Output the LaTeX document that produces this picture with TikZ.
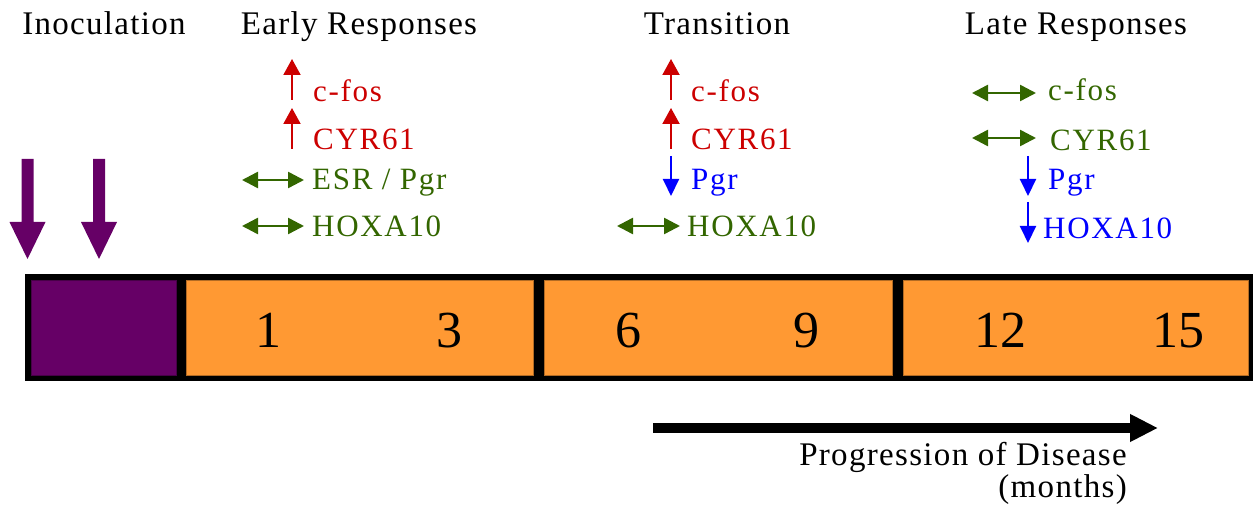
\documentclass[tikz,border=0pt]{standalone}
\usepackage{fontspec}
\setmainfont{Liberation Serif}[LetterSpace=4]
\newfontfamily\lblfont{Liberation Serif}[LetterSpace=5.5]
\newfontfamily\numfont{Liberation Serif}
\usetikzlibrary{arrows.meta}
\definecolor{cred}{HTML}{CC0000}
\definecolor{cgreen}{HTML}{336600}
\definecolor{cblue}{HTML}{0000FF}
\definecolor{cpurple}{HTML}{660066}
\definecolor{corange}{HTML}{FF9933}
\begin{document}
\begin{tikzpicture}[x=1pt,y=-1pt,
  lbl/.style={inner sep=0pt,anchor=base west,font=\lblfont\fontsize{31}{36}\selectfont},
  title/.style={inner sep=0pt,anchor=base,font=\fontsize{33}{37}\selectfont},
  num/.style={inner sep=0pt,anchor=base,font=\numfont\fontsize{52}{56}\selectfont},
  cell/.style={inner sep=0pt,minimum height=95pt,draw=#1!70!black,line width=0.6pt,fill=#1},
  uparr/.style={draw=cred,line width=2pt,-{Triangle[width=17pt,length=16pt]}},
  downarr/.style={draw=cblue,line width=2pt,-{Triangle[width=16pt,length=17pt]}},
  sidearr/.style={draw=cgreen,line width=2.5pt,{Triangle[width=16pt,length=16pt]}-{Triangle[width=16pt,length=16pt]}},
  inoc/.style={fill=cpurple},
]
\useasboundingbox (0,0) rectangle (1253,510);

% timeline bar
\node[inner sep=0pt,fill=black,minimum width=1228pt,minimum height=107pt] (frame) at (639,327.5) {};
\node[cell=cpurple,minimum width=145pt] (c0) at (103.5,327.5) {};
\node[cell=corange,minimum width=347pt] (c1) at (359.5,327.5) {};
\node[cell=corange,minimum width=348pt] (c2) at (718,327.5) {};
\node[cell=corange,minimum width=345pt] (c3) at (1075.5,327.5) {};

\node[num] (n1) at (268,348) {1};
\node[num] (n3) at (449,348) {3};
\node[num] (n6) at (628,348) {6};
\node[num] (n9) at (806,348) {9};
\node[num] (n12) at (1000,348) {12};
\node[num] (n15) at (1178,348) {15};

% inoculation arrows
\fill[inoc] (21.5,159) -- (33.5,159) -- (33.5,222) -- (45.5,222) -- (27.5,259) -- (9.5,222) -- (21.5,222) -- cycle;
\fill[inoc] (93,159) -- (105,159) -- (105,222) -- (117,222) -- (99,259) -- (81,222) -- (93,222) -- cycle;

% titles
\node[title] (tInoc) at (104,35) {Inoculation};
\node[title] (tEarly) at (359,35) {Early Responses};
\node[title] (tTrans) at (717,35) {Transition};
\node[title] (tLate) at (1076,35) {Late Responses};

% early responses
\node[lbl,text=cred] (e1) at (313,102) {c-fos};
\node[lbl,text=cred] (e2) at (313,150) {CYR61};
\node[lbl,text=cgreen] (e3) at (312,190) {ESR / Pgr};
\node[lbl,text=cgreen] (e4) at (312,237) {HOXA10};
\coordinate (ea1s) at (292,100); \coordinate (ea1e) at (292,59);
\coordinate (ea2s) at (292,149); \coordinate (ea2e) at (292,108);
\coordinate (ea3s) at (242,180); \coordinate (ea3e) at (304,180);
\coordinate (ea4s) at (242,226); \coordinate (ea4e) at (304,226);
\draw[uparr] (ea1s) -- (ea1e);
\draw[uparr] (ea2s) -- (ea2e);
\draw[sidearr] (ea3s) -- (ea3e);
\draw[sidearr] (ea4s) -- (ea4e);

% transition
\node[lbl,text=cred] (t1) at (691,102) {c-fos};
\node[lbl,text=cred] (t2) at (691,150) {CYR61};
\node[lbl,text=cblue] (t3) at (691,190) {Pgr};
\node[lbl,text=cgreen] (t4) at (687,237) {HOXA10};
\coordinate (ta1s) at (671,100); \coordinate (ta1e) at (671,59);
\coordinate (ta2s) at (671,149); \coordinate (ta2e) at (671,108);
\coordinate (ta3s) at (671,156); \coordinate (ta3e) at (671,196);
\coordinate (ta4s) at (617,226); \coordinate (ta4e) at (680,226);
\draw[uparr] (ta1s) -- (ta1e);
\draw[uparr] (ta2s) -- (ta2e);
\draw[downarr] (ta3s) -- (ta3e);
\draw[sidearr] (ta4s) -- (ta4e);

% late responses
\node[lbl,text=cgreen] (l1) at (1048,101) {c-fos};
\node[lbl,text=cgreen] (l2) at (1050,151) {CYR61};
\node[lbl,text=cblue] (l3) at (1048,190) {Pgr};
\node[lbl,text=cblue] (l4) at (1043,239) {HOXA10};
\coordinate (la1s) at (972,93); \coordinate (la1e) at (1036,93);
\coordinate (la2s) at (972,138); \coordinate (la2e) at (1036,138);
\coordinate (la3s) at (1028,156); \coordinate (la3e) at (1028,196);
\coordinate (la4s) at (1028,202); \coordinate (la4e) at (1028,243);
\draw[sidearr] (la1s) -- (la1e);
\draw[sidearr] (la2s) -- (la2e);
\draw[downarr] (la3s) -- (la3e);
\draw[downarr] (la4s) -- (la4e);

% progression
\coordinate (ps) at (653,428);
\coordinate (pe) at (1158,428);
\draw[line width=10pt,-{Triangle[width=26pt,length=28pt]}] (ps) -- (pe);
\node[inner sep=0pt,anchor=base east,font=\fontsize{33}{37}\selectfont] (prog) at (1127,465) {Progression of Disease};
\node[inner sep=0pt,anchor=base east,font=\fontsize{33}{37}\selectfont] (mon) at (1127,497) {(months)};
\end{tikzpicture}
\end{document}
